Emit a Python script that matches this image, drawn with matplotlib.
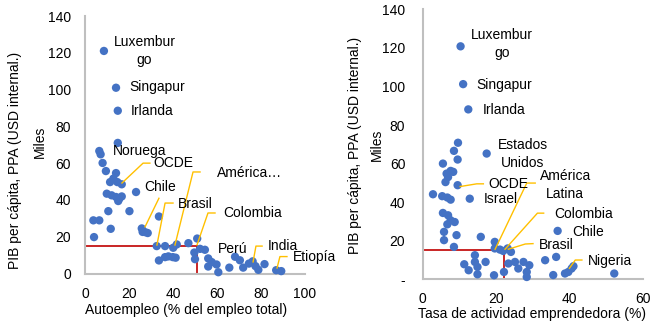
import matplotlib
matplotlib.use("Agg")
import matplotlib.pyplot as plt

plt.rcParams['font.family'] = ['Liberation Sans', 'DejaVu Sans']

# ---------------- Data: left panel (autoempleo vs PIB pc) ----------------
auto_x = [8.6, 14.1, 14.9, 14.9, 6.5, 7.1, 8.0, 9.5, 14.1, 12.9, 11.4, 14.7, 16.7,
          9.9, 12.1, 14.1, 15.6, 16.7, 15.1, 23.2, 10.6, 20.2, 3.8, 6.5, 11.7, 4.1,
          25.8, 27.3, 28.5, 26.2, 33.6, 32.6, 36.4, 40.1, 41.7, 47.0, 51.0, 33.6,
          36.4, 37.9, 39.9, 41.2, 49.7, 50.0, 52.3, 54.5, 56.0, 56.0, 59.8, 60.6,
          65.6, 68.2, 70.4, 71.9, 74.5, 76.2, 77.5, 78.8, 81.6, 86.9, 89.2, 57.6]
auto_y = [121.0, 101.0, 88.5, 71.0, 66.6, 64.8, 60.1, 55.7, 54.6, 51.6, 49.7, 49.7, 48.5,
          43.4, 42.5, 41.6, 40.7, 41.9, 39.4, 44.3, 33.9, 33.9, 28.9, 28.9, 24.3, 19.8,
          24.5, 22.5, 22.0, 22.6, 31.0, 14.9, 14.9, 14.0, 15.8, 16.5, 19.0, 7.1,
          8.9, 9.3, 8.9, 8.6, 11.4, 7.8, 13.4, 12.9, 8.2, 3.8, 4.9, 0.7,
          3.2, 9.1, 7.2, 3.2, 5.4, 6.6, 4.0, 2.0, 5.1, 1.8, 1.3, 6.2]
auto_ref = (51.0, 14.9)  # América Latina

left_labels = ["Luxembur\ngo", "Singapur", "Irlanda", "Noruega", "OCDE", "Chile",
               "Brasil", "América…", "Colombia", "Perú", "India", "Etiopía"]

# ---------------- Data: right panel (TEA vs PIB pc) ----------------
tea_x = [10.3, 11.0, 12.4, 9.6, 8.5, 9.5, 17.4, 5.5, 7.6, 8.3, 6.5, 6.9, 6.2, 9.5,
         2.8, 5.3, 6.7, 7.6, 12.8, 5.5, 6.9, 7.6, 8.7, 6.7, 5.8, 9.2, 5.8, 8.5,
         15.8, 19.6, 19.6, 21.0, 21.9, 23.1, 24.0, 14.2, 11.3, 12.5, 14.9, 14.2,
         14.9, 17.1, 19.4, 22.1, 23.3, 25.1, 26.0, 27.4, 28.3, 29.0, 28.3, 33.3,
         36.3, 36.7, 35.5, 38.7, 39.6, 40.5, 41.0, 52.1]
tea_y = [120.8, 101.2, 88.1, 70.8, 66.6, 62.1, 65.2, 60.0, 56.2, 55.7, 54.8, 53.0, 50.4, 48.8,
         44.1, 43.1, 42.4, 41.3, 41.8, 34.4, 33.2, 30.6, 29.7, 28.5, 24.6, 22.9, 20.3, 16.8,
         22.0, 19.4, 16.0, 15.4, 14.7, 16.0, 14.2, 12.5, 7.8, 4.7, 6.4, 9.0,
         2.6, 9.0, 2.1, 3.8, 8.2, 9.0, 5.6, 9.0, 3.8, 7.3, 1.2, 9.9,
         11.6, 25.1, 2.2, 3.0, 3.8, 5.6, 6.8, 3.0]
tea_ref = (22.2, 15.2)  # América Latina

right_labels = ["Luxembur\ngo", "Singapur", "Irlanda", "Estados\nUnidos", "OCDE", "Israel",
                "América\nLatina", "Colombia", "Chile", "Brasil", "Nigeria"]

y_ticks = [0, 20, 40, 60, 80, 100, 120, 140]
left_xticks = [0, 20, 40, 60, 80, 100]
right_xticks = [0, 20, 40, 60]

# ---------------- Layout (label placements) ----------------
left_label_pos = [(27.1, 121.0, 'center'), (20.0, 101.4, 'left'), (20.9, 88.3, 'left'),
                  (12.7, 66.6, 'left'), (30.9, 60.2, 'left'), (26.8, 47.0, 'left'),
                  (42.3, 37.8, 'left'), (60.0, 54.6, 'left'), (62.7, 32.9, 'left'),
                  (60.5, 13.3, 'left'), (83.2, 15.0, 'left'), (94.5, 9.0, 'left')]
left_leaders = [
    [(16.8, 49.2), (26.4, 60.0), (29.5, 60.0)],
    [(27.3, 25.4), (33.6, 40.9)],
    [(32.7, 15.5), (36.4, 38.3), (40.0, 38.3)],
    [(40.9, 15.5), (49.1, 55.2), (52.3, 55.2)],
    [(50.9, 15.5), (55.9, 32.9), (59.1, 32.9)],
    [(76.4, 6.3), (77.7, 14.9), (80.5, 14.9)],
    [(87.3, 3.0), (88.6, 9.2), (91.8, 9.2)],
]
right_label_pos = [(21.5, 121.8, 'center'), (14.7, 100.9, 'left'), (16.3, 87.9, 'left'),
                   (27.2, 64.8, 'center'), (17.8, 49.5, 'left'), (16.5, 41.6, 'left'),
                   (38.8, 48.7, 'center'), (35.8, 33.9, 'left'), (40.6, 24.7, 'left'),
                   (31.5, 17.8, 'left'), (44.8, 9.5, 'left')]
right_leaders = [
    [(10.2, 48.1), (14.7, 49.5), (16.5, 49.5)],
    [(19.7, 15.6), (28.3, 49.9), (30.6, 49.9)],
    [(22.4, 15.6), (31.2, 34.3), (32.9, 34.3)],
    [(23.3, 15.6), (27.9, 18.3), (30.0, 18.5)],
    [(39.9, 5.7), (41.5, 10.0), (43.3, 10.0)],
]

W, H = 657, 324
fig = plt.figure(figsize=(W / 100, H / 100), dpi=100)

def px_box(x0, x1, y_top, y_bot):
    return [x0 / W, 1 - y_bot / H, (x1 - x0) / W, (y_bot - y_top) / H]

axL = fig.add_axes(px_box(85, 305, 16, 273.5))
axR = fig.add_axes(px_box(422.7, 643.3, 9.3, 279.3))

BLUE = '#4472C4'
GOLD = '#FFC000'
RED = '#C00000'
GRAY = '#BFBFBF'

def style(ax, xlim, xticks, ypad, xpad):
    ax.set_xlim(*xlim)
    ax.set_ylim(0, 140)
    ax.set_xticks(xticks)
    ax.set_yticks(y_ticks)
    for s in ['top', 'right']:
        ax.spines[s].set_visible(False)
    for s in ['left', 'bottom']:
        ax.spines[s].set_color(GRAY)
        ax.spines[s].set_linewidth(1.5)
    ax.tick_params(axis='both', length=0, labelsize=10, colors='#000000')
    ax.tick_params(axis='y', pad=ypad)
    ax.tick_params(axis='x', pad=xpad)
    ax.set_facecolor('none')

style(axL, (0, 100), left_xticks, 10, 10)
style(axR, (0, 60), right_xticks, 12.5, 9)
axR.set_yticklabels(['-' if v == 0 else str(v) for v in y_ticks])

for ax, xs, ys, ref in [(axL, auto_x, auto_y, auto_ref), (axR, tea_x, tea_y, tea_ref)]:
    ax.plot([0, ref[0]], [ref[1], ref[1]], color=RED, lw=1.2, zorder=2)
    ax.plot([ref[0], ref[0]], [0, ref[1]], color=RED, lw=1.2, zorder=2)
    ax.scatter(xs, ys, s=36, color=BLUE, edgecolors='none', zorder=3, clip_on=False)

for ax, leaders in [(axL, left_leaders), (axR, right_leaders)]:
    for seg in leaders:
        ax.plot([p[0] for p in seg], [p[1] for p in seg], color=GOLD, lw=1.0, zorder=4)

for ax, labels, pos in [(axL, left_labels, left_label_pos), (axR, right_labels, right_label_pos)]:
    for lab, (x, y, ha) in zip(labels, pos):
        ax.text(x, y, lab, ha=ha, va='center', fontsize=10, linespacing=1.35,
                color='#000000', zorder=5, clip_on=False)

def ftxt(px, py, s, rot=0):
    fig.text(px / W, 1 - py / H, s, ha='center', va='center', rotation=rot, fontsize=10)

ftxt(186, 310, "Autoempleo (% del empleo total)")
ftxt(15, 160, "PIB per cápita, PPA (USD internal.)", 90)
ftxt(40, 142, "Miles", 90)
ftxt(532, 314, "Tasa de actividad emprendedora (%)")
ftxt(355, 145, "PIB per cápita, PPA (USD internal.)", 90)
ftxt(377, 145, "Miles", 90)

fig.savefig("out.png", dpi=100)
